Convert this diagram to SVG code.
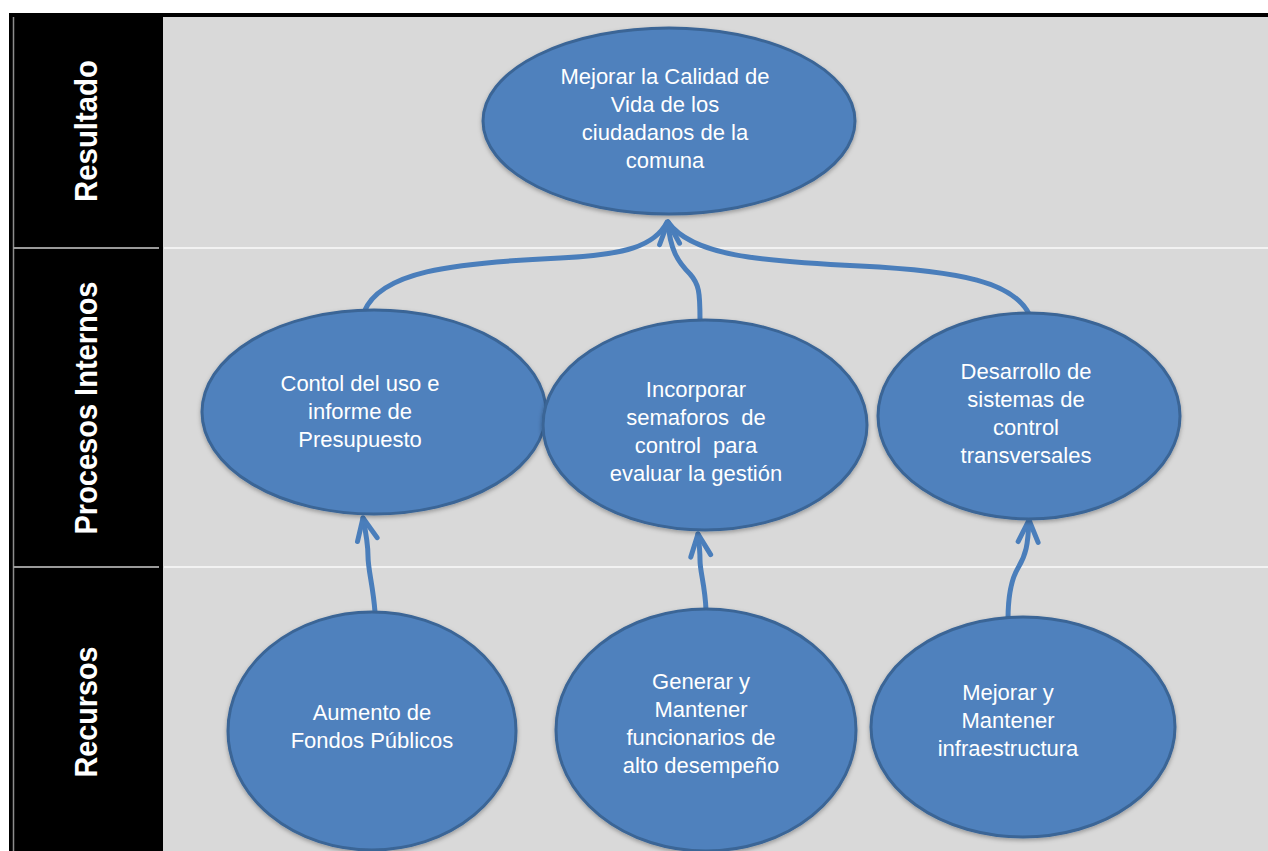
<svg xmlns="http://www.w3.org/2000/svg" width="1268" height="851" viewBox="0 0 1268 851">
  <style>
    .node ellipse { fill: #4F81BD; stroke: #3A6596; stroke-width: 3; }
    .node text { font-family: "Liberation Sans", Arial, sans-serif; font-size: 22px; fill: #FFFFFF; text-anchor: middle; }
    .lane { font-family: "Liberation Sans", Arial, sans-serif; font-weight: bold; font-size: 32px; fill: #FFFFFF; text-anchor: middle; }
    .link { fill: none; stroke: #4A7EBB; stroke-width: 5; stroke-linecap: round; stroke-linejoin: round; }
    .sep-dark { stroke: #9A9A9A; stroke-width: 2; }
    .sep-light { stroke: #F2F2F2; stroke-width: 2; }
  </style>
  <defs>
    <marker id="chevron" markerUnits="userSpaceOnUse" markerWidth="40" markerHeight="40" viewBox="-30 -20 40 40" refX="0" refY="0" orient="auto">
      <path d="M -22 -10 L 0 0 L -22 10" fill="none" stroke="#4A7EBB" stroke-width="5" stroke-linecap="round" stroke-linejoin="round"/>
    </marker>
    <filter id="shade" x="-10%" y="-10%" width="120%" height="130%">
      <feDropShadow dx="0" dy="2" stdDeviation="2" flood-color="#000000" flood-opacity="0.3"/>
    </filter>
  </defs>

  <!-- background: lane header column and content area -->
  <rect x="0" y="0" width="1268" height="851" fill="#FFFFFF"/>
  <rect x="9" y="13" width="1259" height="838" fill="#000000"/>
  <rect x="163" y="17" width="1105" height="834" fill="#D9D9D9"/>
  <line x1="13.5" y1="17" x2="13.5" y2="851" stroke="#8C8C8C" stroke-width="1.5"/>

  <!-- lane separators -->
  <line class="sep-dark" x1="13" y1="248" x2="159" y2="248"/>
  <line class="sep-dark" x1="13" y1="567" x2="159" y2="567"/>
  <line class="sep-light" x1="164" y1="248" x2="1268" y2="248"/>
  <line class="sep-light" x1="164" y1="567" x2="1268" y2="567"/>

  <!-- lane titles -->
  <text class="lane" transform="translate(97,131) rotate(-90)" textLength="142" lengthAdjust="spacingAndGlyphs">Resultado</text>
  <text class="lane" transform="translate(97,408) rotate(-90)" textLength="253" lengthAdjust="spacingAndGlyphs">Procesos Internos</text>
  <text class="lane" transform="translate(97,712) rotate(-90)" textLength="131" lengthAdjust="spacingAndGlyphs">Recursos</text>

  <!-- connectors -->
  <g id="connectors">
    <path class="link" d="M 364 312 C 380 272, 450 263, 560 258 C 625 255, 655 246, 667 222"/>
    <path class="link" d="M 1030 316 C 1015 282, 960 271, 860 266 C 760 261, 692 256, 668 222"/>
    <path class="link" d="M 700 320 C 700 292, 699 284, 690 274 C 678 262, 670 250, 668 222" marker-end="url(#chevron)"/>
    <path class="link" d="M 375 612 C 373 585, 368 570, 368 556 C 368 545, 366 533, 363 518" marker-end="url(#chevron)"/>
    <path class="link" d="M 706 610 C 705 585, 700 572, 700 560 C 700 550, 699 542, 698 534" marker-end="url(#chevron)"/>
    <path class="link" d="M 1008 620 C 1008 595, 1012 578, 1018 568 C 1026 555, 1028 545, 1029 520" marker-end="url(#chevron)"/>
  </g>

  <!-- result -->
  <g id="calidad-vida" class="node">
    <ellipse cx="669" cy="121" rx="186" ry="93" filter="url(#shade)"/>
    <text x="665" y="84">Mejorar la Calidad de</text>
    <text x="665" y="112">Vida de los</text>
    <text x="665" y="140">ciudadanos de la</text>
    <text x="665" y="168">comuna</text>
  </g>

  <!-- internal processes -->
  <g id="control-presupuesto" class="node">
    <ellipse cx="374" cy="412" rx="172" ry="102" filter="url(#shade)"/>
    <text x="360" y="391">Contol del uso e</text>
    <text x="360" y="419">informe de</text>
    <text x="360" y="447">Presupuesto</text>
  </g>
  <g id="semaforos" class="node">
    <ellipse cx="705" cy="425" rx="162" ry="105" filter="url(#shade)"/>
    <text x="696" y="397">Incorporar</text>
    <text x="696" y="425" xml:space="preserve">semaforos  de</text>
    <text x="696" y="453" xml:space="preserve">control  para</text>
    <text x="696" y="481">evaluar la gestión</text>
  </g>
  <g id="sistemas-control" class="node">
    <ellipse cx="1029" cy="416" rx="151" ry="103" filter="url(#shade)"/>
    <text x="1026" y="379">Desarrollo de</text>
    <text x="1026" y="407">sistemas de</text>
    <text x="1026" y="435">control</text>
    <text x="1026" y="463">transversales</text>
  </g>

  <!-- resources -->
  <g id="fondos" class="node">
    <ellipse cx="372" cy="731" rx="144" ry="119" filter="url(#shade)"/>
    <text x="372" y="720">Aumento de</text>
    <text x="372" y="748">Fondos Públicos</text>
  </g>
  <g id="funcionarios" class="node">
    <ellipse cx="706" cy="730" rx="150" ry="121" filter="url(#shade)"/>
    <text x="701" y="689">Generar y</text>
    <text x="701" y="717">Mantener</text>
    <text x="701" y="745">funcionarios de</text>
    <text x="701" y="773">alto desempeño</text>
  </g>
  <g id="infraestructura" class="node">
    <ellipse cx="1023" cy="727" rx="152" ry="110" filter="url(#shade)"/>
    <text x="1008" y="700">Mejorar y</text>
    <text x="1008" y="728">Mantener</text>
    <text x="1008" y="756">infraestructura</text>
  </g>
</svg>
